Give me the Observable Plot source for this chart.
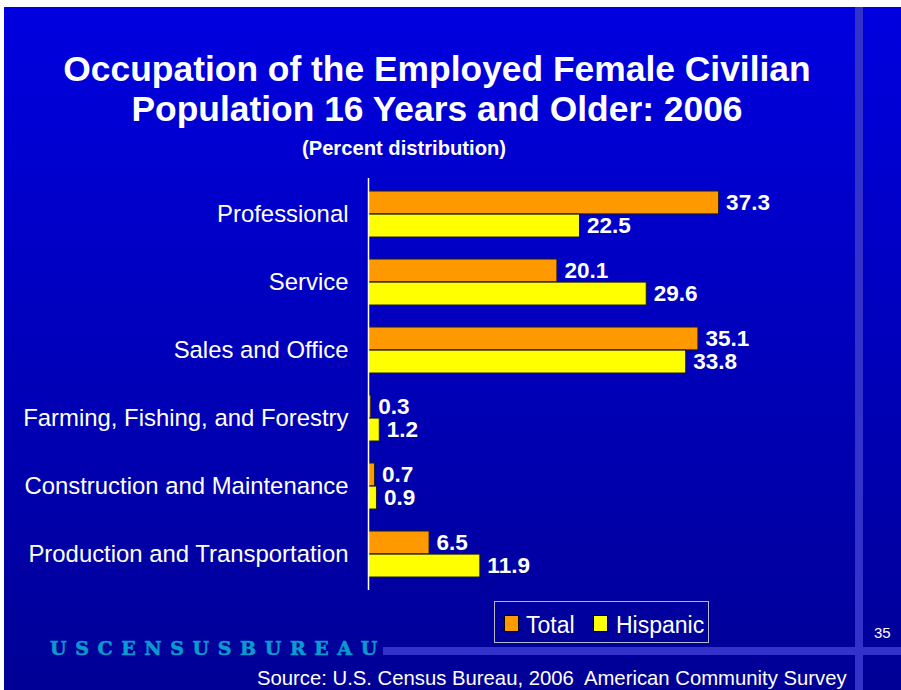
<!DOCTYPE html>
<html>
<head>
<meta charset="utf-8">
<script src="https://cdn.jsdelivr.net/npm/d3@7"></script>
<script src="https://cdn.jsdelivr.net/npm/@observablehq/plot@0.6"></script>
<style>
  html, body { margin: 0; padding: 0; background: #fff; }
  #slide { position: relative; width: 901px; height: 690px; background: #fff; overflow: hidden;
           font-family: "Liberation Sans", Arial, sans-serif; color: #fff; }
  #bg { position: absolute; left: 4px; top: 7px; width: 897px; height: 683px;
        background: linear-gradient(#0000e0, #000096); }
  .abs { position: absolute; white-space: pre; line-height: 1; }
  #vstripe { position: absolute; left: 855px; top: 7px; width: 8px; height: 683px; background: #3333cc; }
  #hstripe { position: absolute; left: 383px; top: 647px; width: 518px; height: 8px; background: #3333cc; }
  .title { left: 0; width: 874px; text-align: center; font-weight: bold; font-size: 35.4px; }
  #chart { position: absolute; left: 0; top: 170px; }
  #legend { position: absolute; left: 494px; top: 601px; width: 213px; height: 40px; border: 1px solid #b8b8c8; }
  .sw { position: absolute; width: 13px; height: 15px; border: 1px solid #000; top: 13px; }
  .lt { position: absolute; font-size: 23px; line-height: 1; top: 12px; white-space: pre; }
  #logo { left: 50px; top: 639px; font-size: 19px; font-family: "DejaVu Serif", "Liberation Serif", serif;
          font-weight: 900; color: #0a9ad0; letter-spacing: 8.6px; -webkit-text-stroke: 0.6px #0a9ad0; }
</style>
</head>
<body>
<div id="slide">
  <div id="bg"></div>
  <div id="vstripe"></div>
  <div id="hstripe"></div>
  <div class="abs title" style="top:52px">Occupation of the Employed Female Civilian</div>
  <div class="abs title" style="top:92px">Population 16 Years and Older: 2006</div>
  <div class="abs" style="left:0;width:808px;text-align:center;top:138px;font-size:20.2px;font-weight:bold">(Percent distribution)</div>
  <div id="chart"></div>
  <div id="legend"></div>
  <div class="abs" style="left:874px;top:625px;font-size:15px">35</div>
  <div class="abs" id="logo">USCENSUSBUREAU</div>
  <div class="abs" style="left:257px;top:668px;font-size:20.3px">Source: U.S. Census Bureau, 2006  American Community Survey</div>
</div>
<script>
const categories = [
  "Professional",
  "Service",
  "Sales and Office",
  "Farming, Fishing, and Forestry",
  "Construction and Maintenance",
  "Production and Transportation"
];
const series = ["Total", "Hispanic"];
const totalValues = [37.3, 20.1, 35.1, 0.3, 0.7, 6.5];
const hispanicValues = [22.5, 29.6, 33.8, 1.2, 0.9, 11.9];
const seriesColors = ["#ff9900", "#ffff00"];

const totalRows = categories.map((c, i) => ({category: c, series: series[0], value: totalValues[i]}));
const hispanicRows = categories.map((c, i) => ({category: c, series: series[1], value: hispanicValues[i]}));

const half = 23.1;
const labelStyle = {fill: "white", fontWeight: "bold", fontSize: 22.5, textAnchor: "start", dx: 7};

const chart = Plot.plot({
  width: 901,
  height: 430,
  marginLeft: 368,
  marginRight: 63,
  marginTop: 8,
  marginBottom: 10,
  style: {background: "transparent", color: "white", fontSize: "23.9px", fontFamily: "'Liberation Sans', Arial, sans-serif"},
  x: {domain: [0, 50], axis: null},
  y: {domain: categories, paddingInner: 0.3235, paddingOuter: 0.1756, tickSize: 0, tickPadding: 20, label: null},
  color: {domain: series, range: seriesColors},
  marks: [
    Plot.barX(totalRows, {x: "value", y: "category", fill: "series", stroke: "#1a1a1a", strokeWidth: 1, insetBottom: half}),
    Plot.barX(hispanicRows, {x: "value", y: "category", fill: "series", stroke: "#1a1a1a", strokeWidth: 1, insetTop: half}),
    Plot.text(totalRows, {x: "value", y: "category", text: d => d.value.toFixed(1), dy: -11.5, ...labelStyle}),
    Plot.text(hispanicRows, {x: "value", y: "category", text: d => d.value.toFixed(1), dy: 11.5, ...labelStyle}),
    Plot.ruleX([0], {stroke: "white", strokeWidth: 1.5})
  ]
});
document.getElementById("chart").appendChild(chart);

// legend
const legend = document.getElementById("legend");
const legendPos = [{sw: 9, tx: 31}, {sw: 98, tx: 121}];
series.forEach((s, i) => {
  const sw = document.createElement("div");
  sw.className = "sw";
  sw.style.left = legendPos[i].sw + "px";
  sw.style.background = seriesColors[i];
  legend.appendChild(sw);
  const t = document.createElement("div");
  t.className = "lt";
  t.style.left = legendPos[i].tx + "px";
  t.textContent = s;
  legend.appendChild(t);
});
</script>
</body>
</html>
